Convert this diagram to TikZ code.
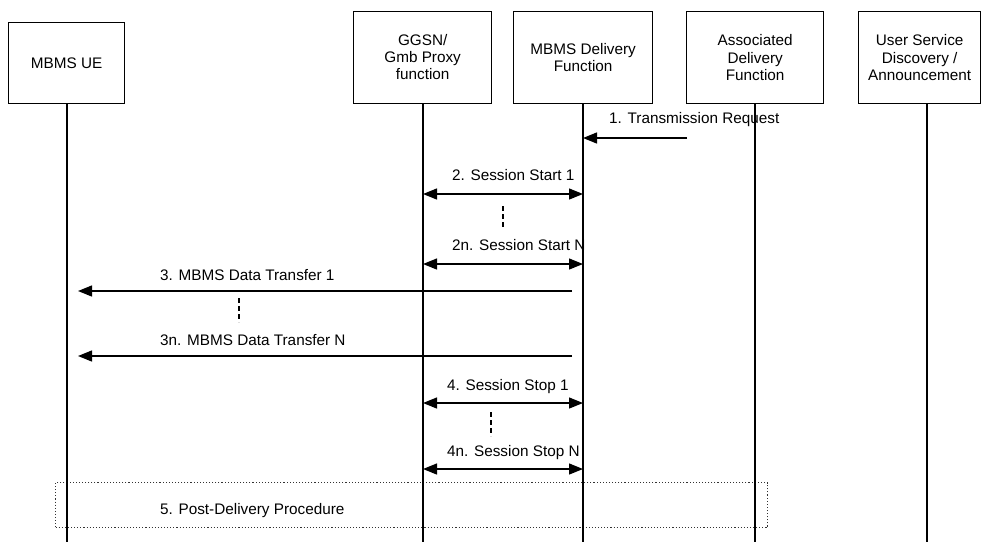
\documentclass[tikz,border=0pt]{standalone}
\usepackage{fontspec}
\setmainfont{Liberation Sans}
\usetikzlibrary{arrows.meta}
\begin{document}
\begin{tikzpicture}[x=1pt,y=-1pt,
  every node/.style={font=\fontsize{15.3}{17.2}\selectfont, inner sep=0pt},
  entity/.style={draw, line width=1.3pt, align=center, minimum height=92pt, anchor=north west},
  life/.style={line width=1.3pt},
  msg/.style={line width=1.3pt, -{Triangle[length=14pt,width=11pt]}},
  dmsg/.style={line width=1.3pt, {Triangle[length=14pt,width=11pt]}-{Triangle[length=14pt,width=11pt]}},
  lbl/.style={anchor=west},
  gap/.style={line width=1.1pt, dash pattern=on 5pt off 3pt},
  proc/.style={draw=black!80, line width=1.1pt, dotted}]
\useasboundingbox (0,0) rectangle (984,542);
% entities
\node[entity, minimum width=116pt, minimum height=81pt] (ue) at (8,22) {MBMS UE};
\node[entity, minimum width=138pt] (ggsn) at (353,11) {\mbox{}\\[-7pt]GGSN/\\Gmb Proxy\\function};
\node[entity, minimum width=139pt] (mdf) at (513,11) {MBMS Delivery\\Function};
\node[entity, minimum width=137pt] (adf) at (686,11) {Associated\\Delivery\\Function};
\node[entity, minimum width=122pt] (usd) at (858,11) {User Service\\Discovery /\\Announcement};
% lifeline ends
\coordinate (ueE) at (67,542);
\coordinate (ggsnE) at (423,542);
\coordinate (mdfE) at (583,542);
\coordinate (adfE) at (755,542);
\coordinate (usdE) at (927,542);
% procedure box
\node[proc, minimum width=712pt, minimum height=45pt, anchor=north west] (pdp) at (55,482) {};
\node[lbl] (l5) at (160,511) {5. Post-Delivery Procedure};
% lifelines
\draw[life] (ue.south -| ueE) -- (ueE);
\draw[life] (ggsn.south -| ggsnE) -- (ggsnE);
\draw[life] (mdf.south -| mdfE) -- (mdfE);
\draw[life] (adf.south -| adfE) -- (adfE);
\draw[life] (usd.south -| usdE) -- (usdE);
% message 1
\coordinate (m1s) at (687,138);
\draw[msg] (m1s) -- (mdfE |- m1s);
\node[lbl] (l1) at (609,120) {1. Transmission Request};
% message 2
\coordinate (m2) at (0,194);
\coordinate (m2n) at (0,264);
\draw[dmsg] (ggsnE |- m2) -- (mdfE |- m2);
\node[lbl] (l2) at (452,175) {2. Session Start 1};
\coordinate (g2a) at (503,206);
\coordinate (g2b) at (503,229);
\draw[gap] (g2a) -- (g2b);
\draw[dmsg] (ggsnE |- m2n) -- (mdfE |- m2n);
\node[lbl] (l2n) at (452,245) {2n. Session Start N};
% message 3
\coordinate (m3s) at (572,291);
\coordinate (m3e) at (78,291);
\draw[msg] (m3s) -- (m3e);
\node[lbl] (l3) at (160,275) {3. MBMS Data Transfer 1};
\coordinate (g3a) at (239,298);
\coordinate (g3b) at (239,322);
\draw[gap] (g3a) -- (g3b);
\coordinate (m3ns) at (572,356);
\coordinate (m3ne) at (78,356);
\draw[msg] (m3ns) -- (m3ne);
\node[lbl] (l3n) at (160,340) {3n. MBMS Data Transfer N};
% message 4
\coordinate (m4) at (0,403);
\coordinate (m4n) at (0,469);
\draw[dmsg] (ggsnE |- m4) -- (mdfE |- m4);
\node[lbl] (l4) at (447,387) {4. Session Stop 1};
\coordinate (g4a) at (491,412);
\coordinate (g4b) at (491,436);
\draw[gap] (g4a) -- (g4b);
\draw[dmsg] (ggsnE |- m4n) -- (mdfE |- m4n);
\node[lbl] (l4n) at (447,453) {4n. Session Stop N};
\end{tikzpicture}
\end{document}
